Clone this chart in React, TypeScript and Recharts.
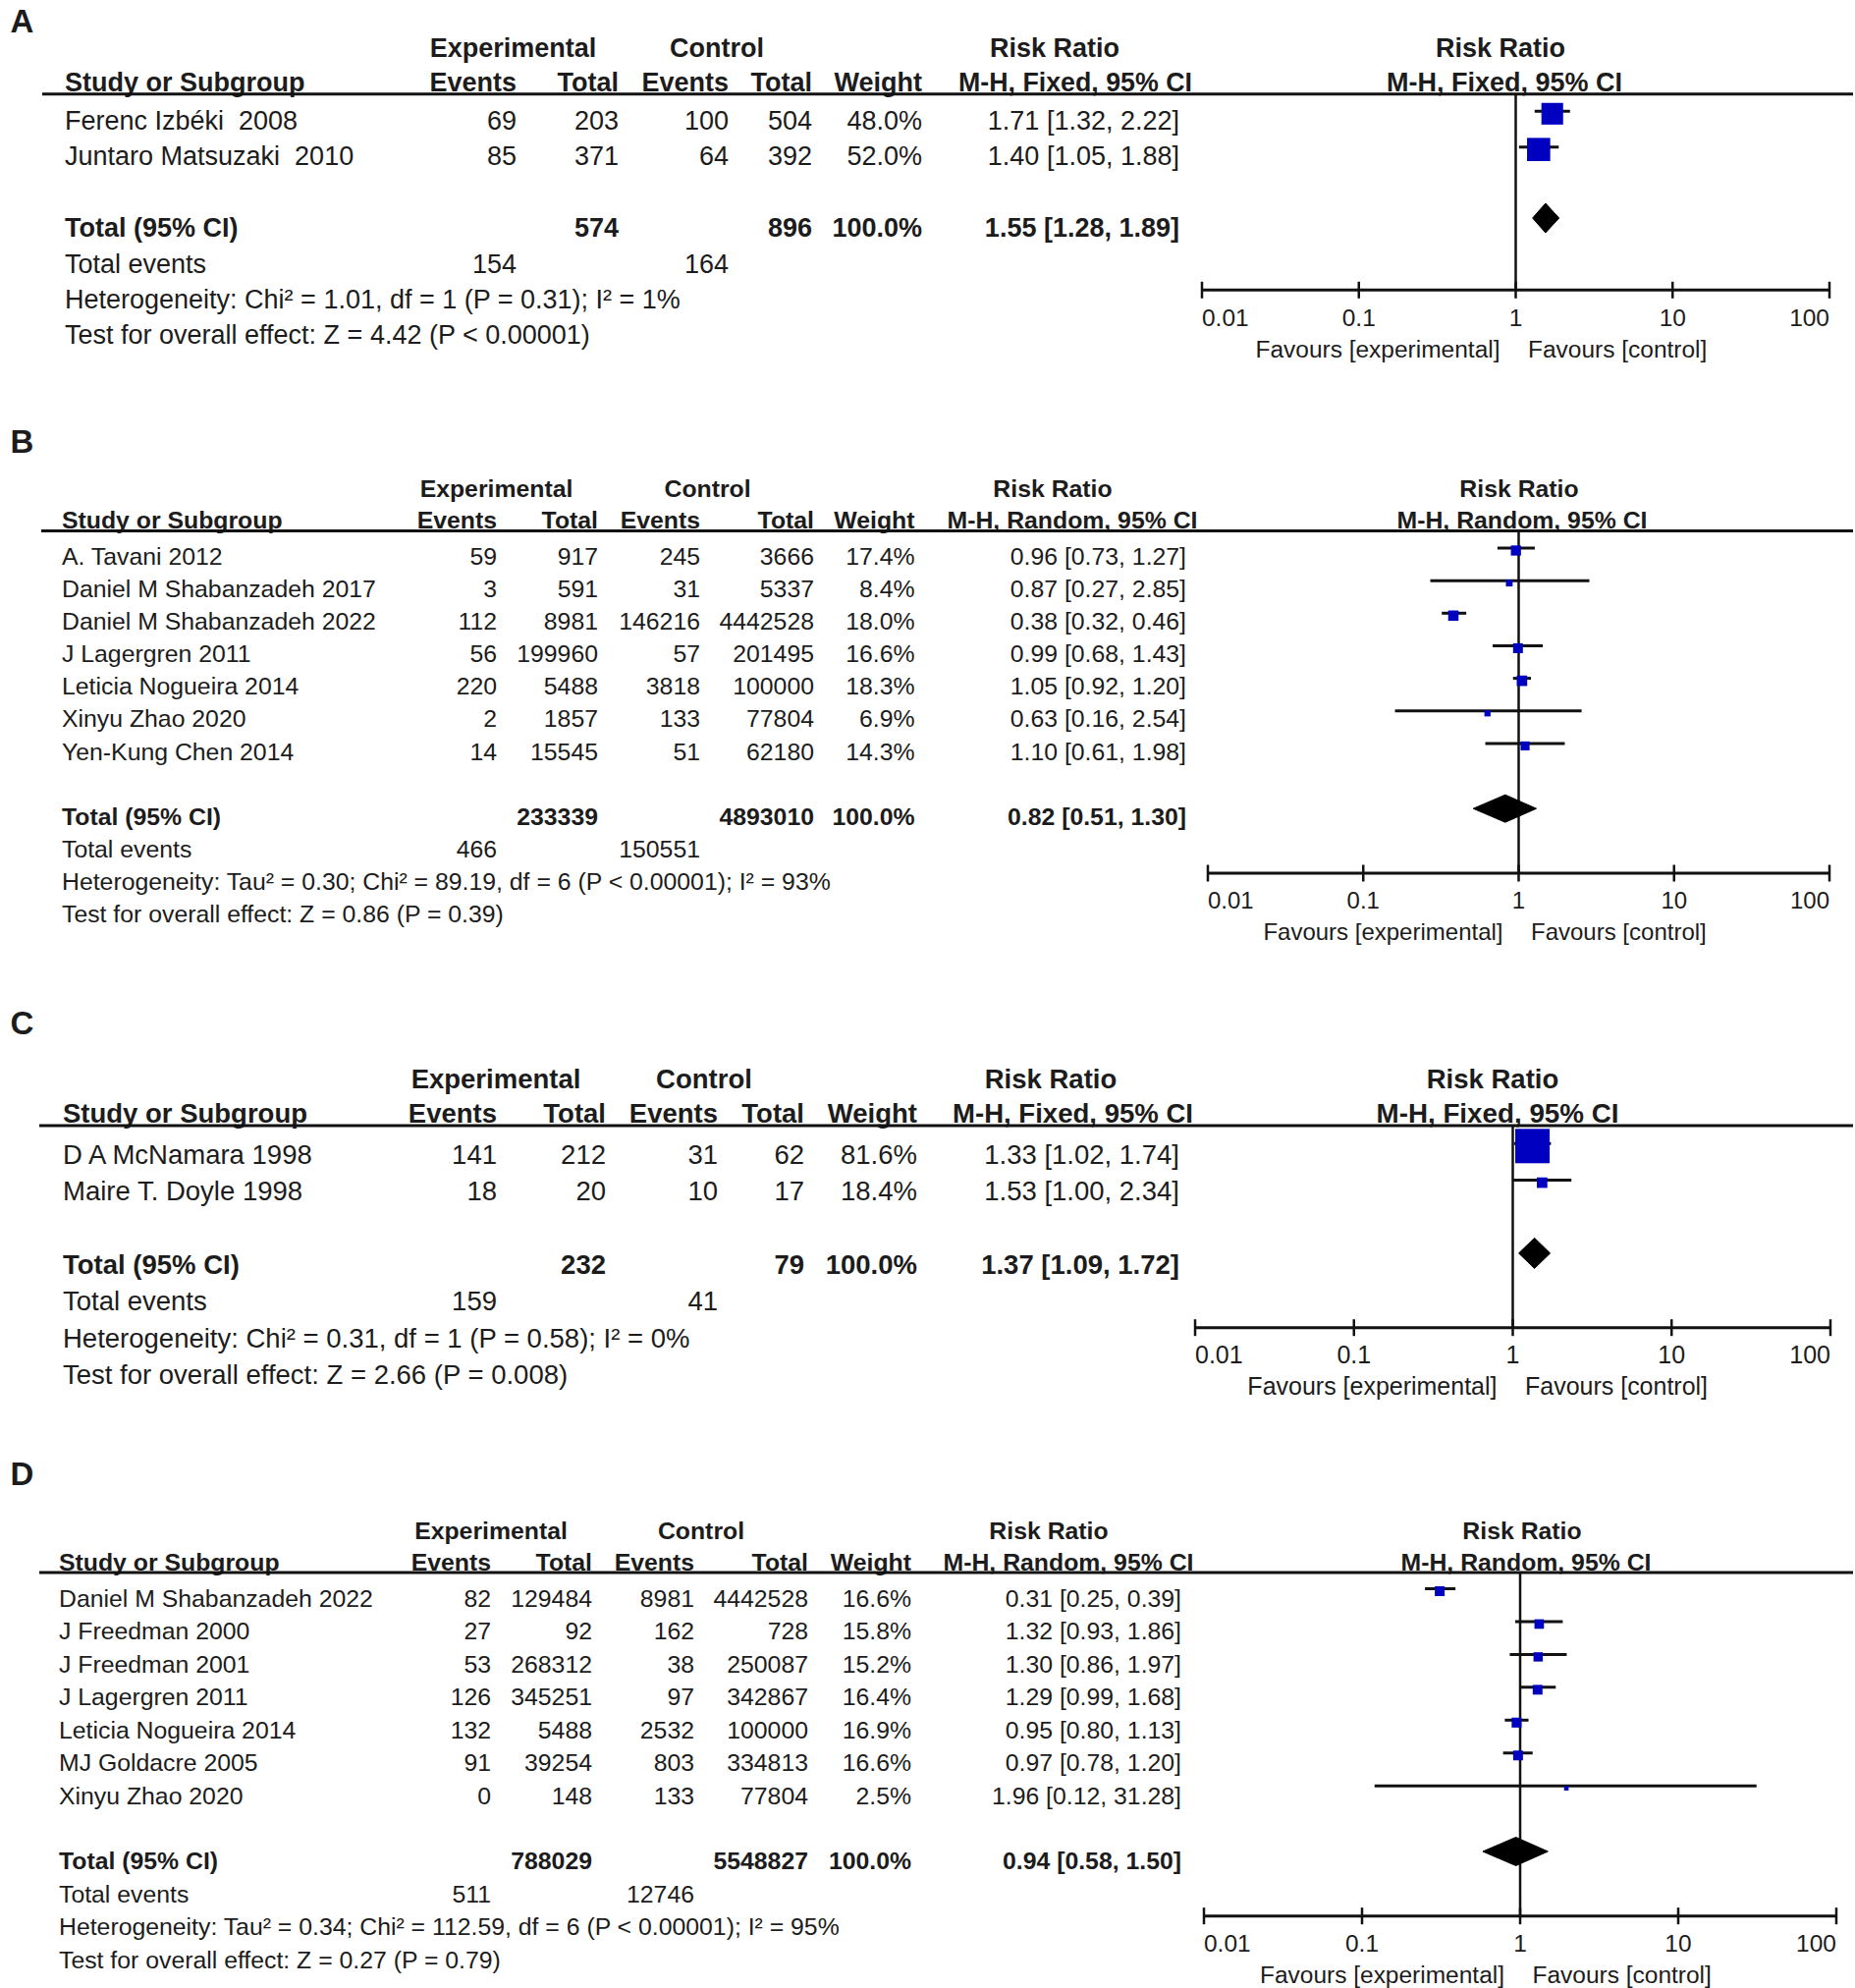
import React from 'react';
import { ScatterChart, Scatter, XAxis, YAxis, ErrorBar, ReferenceLine } from 'recharts';

const FONT = '"Liberation Sans", Arial, Helvetica, sans-serif';
const BLUE = '#0000C0';
const INK = '#1c1c1c';

// ---------- shared axis ----------
const axisTicks = [0.01, 0.1, 1, 10, 100];
const axisTickLabels = ['0.01', '0.1', '1', '10', '100'];
const favoursLeft = 'Favours [experimental]';
const favoursRight = 'Favours [control]';

// ---------- Panel A ----------
const aStudies = ['Ferenc Izbéki  2008', 'Juntaro Matsuzaki  2010'];
const aExpEvents = [69, 85];
const aExpTotal = [203, 371];
const aCtlEvents = [100, 64];
const aCtlTotal = [504, 392];
const aWeight = [48.0, 52.0];
const aRR = [1.71, 1.4];
const aLow = [1.32, 1.05];
const aHigh = [2.22, 1.88];
const aTotals = [574, 896];
const aPooled = [1.55, 1.28, 1.89];
const aTotalEvents = [154, 164];
const aHet = 'Heterogeneity: Chi² = 1.01, df = 1 (P = 0.31); I² = 1%';
const aTest = 'Test for overall effect: Z = 4.42 (P < 0.00001)';

// ---------- Panel B ----------
const bStudies = ['A. Tavani 2012', 'Daniel M Shabanzadeh 2017', 'Daniel M Shabanzadeh 2022', 'J Lagergren 2011', 'Leticia Nogueira 2014', 'Xinyu Zhao 2020', 'Yen-Kung Chen 2014'];
const bExpEvents = [59, 3, 112, 56, 220, 2, 14];
const bExpTotal = [917, 591, 8981, 199960, 5488, 1857, 15545];
const bCtlEvents = [245, 31, 146216, 57, 3818, 133, 51];
const bCtlTotal = [3666, 5337, 4442528, 201495, 100000, 77804, 62180];
const bWeight = [17.4, 8.4, 18.0, 16.6, 18.3, 6.9, 14.3];
const bRR = [0.96, 0.87, 0.38, 0.99, 1.05, 0.63, 1.1];
const bLow = [0.73, 0.27, 0.32, 0.68, 0.92, 0.16, 0.61];
const bHigh = [1.27, 2.85, 0.46, 1.43, 1.2, 2.54, 1.98];
const bTotals = [233339, 4893010];
const bPooled = [0.82, 0.51, 1.3];
const bTotalEvents = [466, 150551];
const bHet = 'Heterogeneity: Tau² = 0.30; Chi² = 89.19, df = 6 (P < 0.00001); I² = 93%';
const bTest = 'Test for overall effect: Z = 0.86 (P = 0.39)';

// ---------- Panel C ----------
const cStudies = ['D A McNamara 1998', 'Maire T. Doyle 1998'];
const cExpEvents = [141, 18];
const cExpTotal = [212, 20];
const cCtlEvents = [31, 10];
const cCtlTotal = [62, 17];
const cWeight = [81.6, 18.4];
const cRR = [1.33, 1.53];
const cLow = [1.02, 1.0];
const cHigh = [1.74, 2.34];
const cTotals = [232, 79];
const cPooled = [1.37, 1.09, 1.72];
const cTotalEvents = [159, 41];
const cHet = 'Heterogeneity: Chi² = 0.31, df = 1 (P = 0.58); I² = 0%';
const cTest = 'Test for overall effect: Z = 2.66 (P = 0.008)';

// ---------- Panel D ----------
const dStudies = ['Daniel M Shabanzadeh 2022', 'J Freedman 2000', 'J Freedman 2001', 'J Lagergren 2011', 'Leticia Nogueira 2014', 'MJ Goldacre 2005', 'Xinyu Zhao 2020'];
const dExpEvents = [82, 27, 53, 126, 132, 91, 0];
const dExpTotal = [129484, 92, 268312, 345251, 5488, 39254, 148];
const dCtlEvents = [8981, 162, 38, 97, 2532, 803, 133];
const dCtlTotal = [4442528, 728, 250087, 342867, 100000, 334813, 77804];
const dWeight = [16.6, 15.8, 15.2, 16.4, 16.9, 16.6, 2.5];
const dRR = [0.31, 1.32, 1.3, 1.29, 0.95, 0.97, 1.96];
const dLow = [0.25, 0.93, 0.86, 0.99, 0.8, 0.78, 0.12];
const dHigh = [0.39, 1.86, 1.97, 1.68, 1.13, 1.2, 31.28];
const dTotals = [788029, 5548827];
const dPooled = [0.94, 0.58, 1.5];
const dTotalEvents = [511, 12746];
const dHet = 'Heterogeneity: Tau² = 0.34; Chi² = 112.59, df = 6 (P < 0.00001); I² = 95%';
const dTest = 'Test for overall effect: Z = 0.27 (P = 0.79)';

const fixedMethod = 'M-H, Fixed, 95% CI';
const randomMethod = 'M-H, Random, 95% CI';

function makePanel(letter, method, studies, expEvents, expTotal, ctlEvents, ctlTotal, weight, rr, lo, hi, totals, pooled, totalEvents, het, test) {
  return { letter, method, studies, expEvents, expTotal, ctlEvents, ctlTotal, weight, rr, lo, hi, totals, pooled, totalEvents, het, test };
}

const panelA = makePanel('A', fixedMethod, aStudies, aExpEvents, aExpTotal, aCtlEvents, aCtlTotal, aWeight, aRR, aLow, aHigh, aTotals, aPooled, aTotalEvents, aHet, aTest);
const panelB = makePanel('B', randomMethod, bStudies, bExpEvents, bExpTotal, bCtlEvents, bCtlTotal, bWeight, bRR, bLow, bHigh, bTotals, bPooled, bTotalEvents, bHet, bTest);
const panelC = makePanel('C', fixedMethod, cStudies, cExpEvents, cExpTotal, cCtlEvents, cCtlTotal, cWeight, cRR, cLow, cHigh, cTotals, cPooled, cTotalEvents, cHet, cTest);
const panelD = makePanel('D', randomMethod, dStudies, dExpEvents, dExpTotal, dCtlEvents, dCtlTotal, dWeight, dRR, dLow, dHigh, dTotals, dPooled, dTotalEvents, dHet, dTest);

// ---------- layouts (positions / sizes) ----------
const layoutA = {
  fs: 27, afs: 24.5, letterY: 32.5, hdr1Y: 58, hdr2Y: 92.5, lineY: 95.7, lineX0: 43,
  row0: 132, rowH: 36.4, markerOff: 16.5, diamondOff: 19.5, diamondHalf: 15,
  study: 66, expEv: 526, expTot: 630, ctlEv: 742, ctlTot: 827, weight: 939, ci: 1201,
  expHdr: 522.5, ctlHdr: 730, rrHdr: 1074, ciSub: 1095, plotHdr: 1528, plotSub: 1532, subTL: 238, plotSubTL: 240,
  x0: 1224, x1: 1863, axisY: 295,
};
const layoutB = {
  fs: 24.8, afs: 24, letterY: 461, hdr1Y: 506.3, hdr2Y: 537.5, lineY: 540.5, lineX0: 42,
  row0: 574.7, rowH: 33.15, markerOff: 14.7, diamondOff: 17.2, diamondHalf: 14,
  study: 63, expEv: 506, expTot: 609, ctlEv: 713, ctlTot: 829, weight: 931.5, ci: 1208,
  expHdr: 505.5, ctlHdr: 720.6, rrHdr: 1072, ciSub: 1092, plotHdr: 1547, plotSub: 1550, subTL: 0, plotSubTL: 0,
  x0: 1230, x1: 1863, axisY: 888.5,
};
const layoutC = {
  fs: 27.5, afs: 25, letterY: 1053, hdr1Y: 1108, hdr2Y: 1143, lineY: 1146, lineX0: 40,
  row0: 1185, rowH: 37.3, markerOff: 18.2, diamondOff: 21, diamondHalf: 15.5,
  study: 64, expEv: 506, expTot: 617, ctlEv: 731, ctlTot: 819, weight: 934, ci: 1201,
  expHdr: 505, ctlHdr: 717, rrHdr: 1070, ciSub: 1092.5, plotHdr: 1520, plotSub: 1525, subTL: 245, plotSubTL: 247,
  x0: 1217, x1: 1864, axisY: 1351.7,
};
const layoutD = {
  fs: 24.8, afs: 24.5, letterY: 1512, hdr1Y: 1566.8, hdr2Y: 1598.5, lineY: 1601, lineX0: 40,
  row0: 1635.8, rowH: 33.45, markerOff: 15.8, diamondOff: 18.4, diamondHalf: 14.5,
  study: 60, expEv: 500, expTot: 603, ctlEv: 707, ctlTot: 823, weight: 928, ci: 1203,
  expHdr: 500, ctlHdr: 714, rrHdr: 1068, ciSub: 1088, plotHdr: 1550, plotSub: 1554, subTL: 0, plotSubTL: 0,
  x0: 1226, x1: 1870, axisY: 1950.7,
};

const PANELS = [
  { d: panelA, L: layoutA },
  { d: panelB, L: layoutB },
  { d: panelC, L: layoutC },
  { d: panelD, L: layoutD },
];

// the CI whisker sits slightly above the square's centre in the reference
const SQUARE_DROP = 2.5;

const f2 = (v: number) => v.toFixed(2);
const ciText = (r: number, l: number, h: number) => `${f2(r)} [${f2(l)}, ${f2(h)}]`;
const pct = (v: number) => `${v.toFixed(1)}%`;

function T(props: any) {
  const { x, y, anchor = 'start', bold = false, size, tl, children } = props;
  const extra: any = {};
  if (tl) {
    extra.textLength = tl;
    extra.lengthAdjust = 'spacingAndGlyphs';
  }
  return (
    <text x={x} y={y} textAnchor={anchor} fontWeight={bold ? 'bold' : 'normal'} fontSize={size} fill={INK} fontFamily={FONT} style={{ whiteSpace: 'pre' }} {...extra}>
      {children}
    </text>
  );
}

function PanelText({ d, L }: any) {
  const n = d.studies.length;
  const rowY = (i: number) => L.row0 + i * L.rowH;
  const fs = L.fs;
  const tot = n + 1;
  return (
    <g>
      <T x={10.5} y={L.letterY} bold size={33}>{d.letter}</T>
      {/* header row 1 */}
      <T x={L.expHdr} y={L.hdr1Y} anchor="middle" bold size={fs}>Experimental</T>
      <T x={L.ctlHdr} y={L.hdr1Y} anchor="middle" bold size={fs}>Control</T>
      <T x={L.rrHdr} y={L.hdr1Y} anchor="middle" bold size={fs}>Risk Ratio</T>
      <T x={L.plotHdr} y={L.hdr1Y} anchor="middle" bold size={fs}>Risk Ratio</T>
      {/* header row 2 */}
      <T x={L.study} y={L.hdr2Y} bold size={fs}>Study or Subgroup</T>
      <T x={L.expEv} y={L.hdr2Y} anchor="end" bold size={fs}>Events</T>
      <T x={L.expTot} y={L.hdr2Y} anchor="end" bold size={fs}>Total</T>
      <T x={L.ctlEv} y={L.hdr2Y} anchor="end" bold size={fs}>Events</T>
      <T x={L.ctlTot} y={L.hdr2Y} anchor="end" bold size={fs}>Total</T>
      <T x={L.weight} y={L.hdr2Y} anchor="end" bold size={fs}>Weight</T>
      <T x={L.ciSub} y={L.hdr2Y} anchor="middle" bold size={fs} tl={L.subTL}>{d.method}</T>
      <T x={L.plotSub} y={L.hdr2Y} anchor="middle" bold size={fs} tl={L.plotSubTL}>{d.method}</T>
      <line x1={L.lineX0} x2={1887} y1={L.lineY} y2={L.lineY} stroke="#111" strokeWidth={3} />
      {/* study rows */}
      {d.studies.map((s: string, i: number) => (
        <g key={s + i}>
          <T x={L.study} y={rowY(i)} size={fs}>{s}</T>
          <T x={L.expEv} y={rowY(i)} anchor="end" size={fs}>{String(d.expEvents[i])}</T>
          <T x={L.expTot} y={rowY(i)} anchor="end" size={fs}>{String(d.expTotal[i])}</T>
          <T x={L.ctlEv} y={rowY(i)} anchor="end" size={fs}>{String(d.ctlEvents[i])}</T>
          <T x={L.ctlTot} y={rowY(i)} anchor="end" size={fs}>{String(d.ctlTotal[i])}</T>
          <T x={L.weight} y={rowY(i)} anchor="end" size={fs}>{pct(d.weight[i])}</T>
          <T x={L.ci} y={rowY(i)} anchor="end" size={fs}>{ciText(d.rr[i], d.lo[i], d.hi[i])}</T>
        </g>
      ))}
      {/* total row */}
      <T x={L.study} y={rowY(tot)} bold size={fs}>Total (95% CI)</T>
      <T x={L.expTot} y={rowY(tot)} anchor="end" bold size={fs}>{String(d.totals[0])}</T>
      <T x={L.ctlTot} y={rowY(tot)} anchor="end" bold size={fs}>{String(d.totals[1])}</T>
      <T x={L.weight} y={rowY(tot)} anchor="end" bold size={fs}>{pct(100)}</T>
      <T x={L.ci} y={rowY(tot)} anchor="end" bold size={fs}>{ciText(d.pooled[0], d.pooled[1], d.pooled[2])}</T>
      {/* total events */}
      <T x={L.study} y={rowY(tot + 1)} size={fs}>Total events</T>
      <T x={L.expEv} y={rowY(tot + 1)} anchor="end" size={fs}>{String(d.totalEvents[0])}</T>
      <T x={L.ctlEv} y={rowY(tot + 1)} anchor="end" size={fs}>{String(d.totalEvents[1])}</T>
      <T x={L.study} y={rowY(tot + 2)} size={fs}>{d.het}</T>
      <T x={L.study} y={rowY(tot + 3)} size={fs}>{d.test}</T>
    </g>
  );
}

const PAD = 12;
const AXH = 100;

function PanelPlot({ d, L }: any) {
  const n = d.studies.length;
  const W = L.x1 - L.x0;
  const H = L.axisY - L.lineY;
  const lineOff = L.markerOff + SQUARE_DROP;
  const tTop = (L.lineY - L.row0 + lineOff) / L.rowH;
  const tBot = (L.axisY - L.row0 + lineOff) / L.rowH;
  const totalRow = n + 1;
  const points = d.studies.map((s: string, i: number) => ({
    x: d.rr[i],
    y: i,
    err: [d.rr[i] - d.lo[i], d.hi[i] - d.rr[i]],
    w: d.weight[i],
  }));
  const dy = totalRow - (L.diamondOff - lineOff) / L.rowH;
  const hh = L.diamondHalf / L.rowH;
  const diamond = [
    { x: d.pooled[1], y: dy },
    { x: d.pooled[0], y: dy - hh },
    { x: d.pooled[2], y: dy },
    { x: d.pooled[0], y: dy + hh },
  ];
  const afs = L.afs;
  const renderTick = (p: any) => {
    const v = p.payload.value;
    const idx = axisTicks.indexOf(v);
    const anchor = idx === 0 ? 'start' : idx === axisTicks.length - 1 ? 'end' : 'middle';
    const x = p.x;
    return (
      <g>
        <line x1={x} x2={x} y1={H - 8.5} y2={H + 8.5} stroke="#111" strokeWidth={2.5} />
        <text x={x} y={H + 27.5 + 0.358 * afs} textAnchor={anchor} fontSize={afs} fill={INK} fontFamily={FONT}>
          {axisTickLabels[idx]}
        </text>
        {v === 1 ? (
          <g>
            <text x={x - 16} y={H + 59.5 + 0.358 * afs} textAnchor="end" fontSize={afs} fill={INK} fontFamily={FONT}>{favoursLeft}</text>
            <text x={x + 12.5} y={H + 59.5 + 0.358 * afs} textAnchor="start" fontSize={afs} fill={INK} fontFamily={FONT}>{favoursRight}</text>
          </g>
        ) : null}
      </g>
    );
  };
  const renderSquare = (p: any) => {
    const s = 3.6 + 0.385 * p.payload.w;
    return <rect x={p.cx - s / 2} y={p.cy + SQUARE_DROP - s / 2} width={s} height={s} fill={BLUE} />;
  };
  const renderDiamond = (lp: any) => {
    const pts = (lp.points || []).map((q: any) => `${q.x},${q.y}`).join(' ');
    return <polygon points={pts} fill="#000" stroke="#000" strokeWidth={1} />;
  };
  return (
    <div style={{ position: 'absolute', left: L.x0 - PAD, top: L.lineY }}>
      <ScatterChart width={W + 2 * PAD} height={H + AXH} margin={{ top: 0, right: PAD, bottom: 0, left: PAD }}>
        <XAxis
          type="number"
          dataKey="x"
          scale="log"
          domain={[0.01, 100]}
          ticks={axisTicks}
          interval={0}
          height={AXH}
          tickSize={0}
          tickMargin={0}
          tickLine={false}
          axisLine={{ stroke: '#111', strokeWidth: 3 }}
          tick={renderTick}
        />
        <YAxis type="number" dataKey="y" domain={[tTop, tBot]} reversed hide width={0} allowDataOverflow />
        <ReferenceLine x={1} stroke="#111" strokeWidth={2.5} />
        <Scatter data={points} isAnimationActive={false} shape={renderSquare}>
          <ErrorBar dataKey="err" direction="x" width={0} stroke="#111" strokeWidth={3} isAnimationActive={false} />
        </Scatter>
        <Scatter data={diamond} isAnimationActive={false} shape={() => <g />} line={renderDiamond} />
      </ScatterChart>
    </div>
  );
}

export default function App() {
  return (
    <div style={{ position: 'absolute', left: 0, top: 0, width: 1889, height: 2024, background: '#fff', fontFamily: FONT, overflow: 'hidden' }}>
      <svg width={1889} height={2024} style={{ position: 'absolute', left: 0, top: 0 }}>
        {PANELS.map((p) => (
          <PanelText key={p.d.letter} d={p.d} L={p.L} />
        ))}
      </svg>
      {PANELS.map((p) => (
        <PanelPlot key={p.d.letter} d={p.d} L={p.L} />
      ))}
    </div>
  );
}
